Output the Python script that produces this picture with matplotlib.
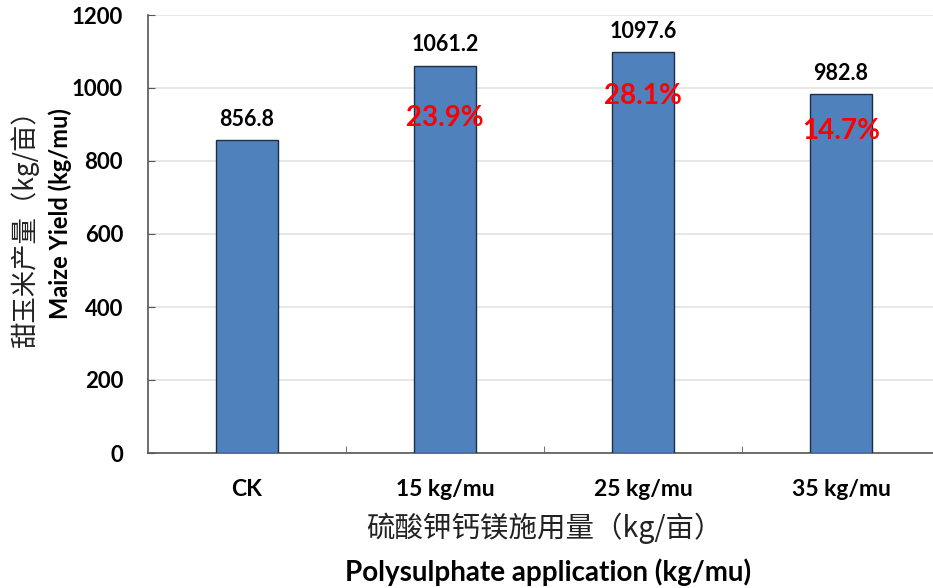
import matplotlib
matplotlib.use("Agg")
import matplotlib.pyplot as plt

categories = ["CK", "15 kg/mu", "25 kg/mu", "35 kg/mu"]
yields = [856.8, 1061.2, 1097.6, 982.8]
increase_labels = ["", "23.9%", "28.1%", "14.7%"]
increase_ypos = [None, 918, 978, 882]

plt.rcParams['font.family'] = ['Lato', 'Noto Sans CJK SC', 'DejaVu Sans']

fig = plt.figure(figsize=(9.33, 5.88), dpi=100)
ax = fig.add_axes([148/933, 1 - 453/588, 1 - 148/933, (453 - 15)/588])

x = range(len(categories))
ax.bar(x, yields, width=0.315, color="#4F81BD", edgecolor="#1f2d44", linewidth=1.0, zorder=3)

for i, v in enumerate(yields):
    ax.text(i, v + 58, f"{v:.1f}", ha="center", va="center", fontsize=15.5, fontweight="bold", color="black")
    if increase_labels[i]:
        ax.text(i, increase_ypos[i], increase_labels[i], ha="center", va="center",
                fontsize=20, fontweight="bold", color="#FF0000", zorder=4)

ax.set_xlim(-0.5, 3.465)
ax.set_ylim(0, 1200)
ax.set_yticks(range(0, 1201, 200))
ax.set_xticks(x)
ax.set_xticklabels(categories, fontsize=16.5, fontweight="bold")
ax.set_xticks([0.5, 1.5, 2.5], minor=True)
ax.tick_params(axis="x", which="major", length=0, pad=19)
ax.tick_params(axis="x", which="minor", length=5, direction="in", color="#555555")
ax.tick_params(axis="y", length=5, direction="in", color="#555555", labelsize=16, pad=18)
for lab in ax.get_yticklabels():
    lab.set_fontweight("bold")

ax.grid(axis="y", color="#e3e3e3", linewidth=1.2, zorder=0)
ax.set_axisbelow(True)
for s in ["top", "right"]:
    ax.spines[s].set_visible(False)
for s in ["left", "bottom"]:
    ax.spines[s].set_color("#555555")
    ax.spines[s].set_linewidth(1.2)

fig.text(25/933, 1 - 222/588, "甜玉米产量（kg/亩）", rotation=90, ha="center", va="center",
         fontsize=19, family=['Noto Sans CJK SC', 'DejaVu Sans'], color="#222222")
fig.text(60/933, 1 - 214/588, "Maize Yield (kg/mu)", rotation=90, ha="center", va="center",
         fontsize=17, fontweight="bold")
fig.text(544/933, 1 - 528/588, "硫酸钾钙镁施用量（kg/亩）", ha="center", va="center",
         fontsize=20.5, family=['Noto Sans CJK SC', 'DejaVu Sans'], color="#222222")
fig.text(548/933, 1 - 572/588, "Polysulphate application (kg/mu)", ha="center", va="center",
         fontsize=20, fontweight="bold")

fig.savefig("out.png", dpi=100)
